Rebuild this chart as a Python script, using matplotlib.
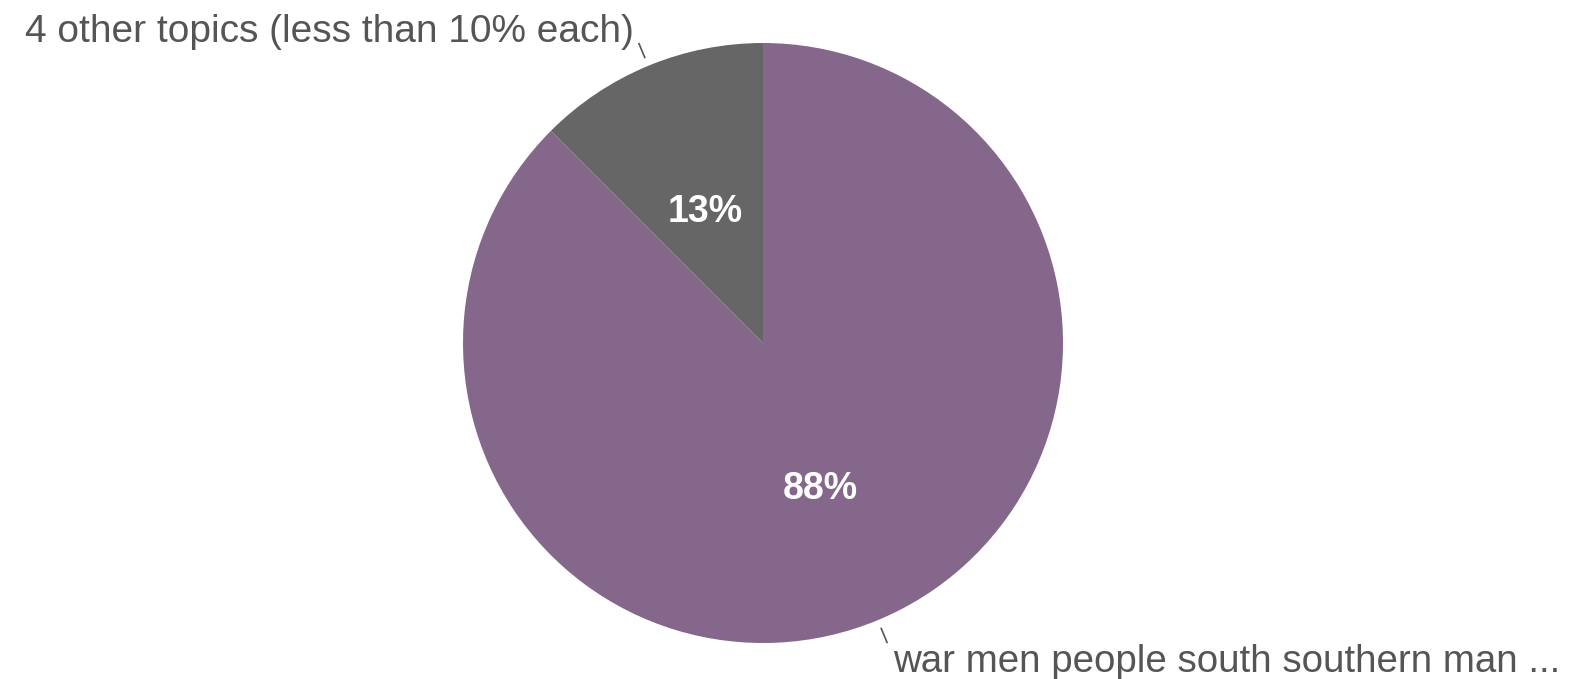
import numpy as np
import matplotlib
matplotlib.use('Agg')
import matplotlib.pyplot as plt

# slice data
labels = ['war men people south southern man ...',
          '4 other topics (less than 10% each)']
shares = [87.5, 12.5]
pct_text = ['88%', '13%']
colors = ['#84678a', '#666666']

plt.rcParams['font.family'] = ['Liberation Sans', 'DejaVu Sans']

W, H = 1569, 679
fig = plt.figure(figsize=(W / 100., H / 100.), dpi=100)
cx, cy, r = 763, 343, 300
ax = fig.add_axes([(cx - r) / W, (H - cy - r) / H, 2 * r / W, 2 * r / H])

wedges, _ = ax.pie(shares, colors=colors, startangle=90, counterclock=False,
                   radius=1.0, wedgeprops=dict(linewidth=0))
ax.set_xlim(-1, 1)
ax.set_ylim(-1, 1)
ax.set_aspect('equal')
ax.axis('off')

for i, w in enumerate(wedges):
    mid = np.deg2rad((w.theta1 + w.theta2) / 2.)
    dx, dy = np.cos(mid), np.sin(mid)
    # percentage inside
    ax.text(0.5 * dx, 0.5 * dy - 0.025, pct_text[i], ha='center', va='center',
            color='white', fontsize=27, fontweight='bold')
    # leader line + outer label
    ax.plot([1.03 * dx, 1.08 * dx], [1.03 * dy, 1.08 * dy],
            color='#555555', lw=1.2, clip_on=False)
    ex, ey = 1.08 * dx, 1.08 * dy
    if dx < 0:
        ax.text(ex - 0.017, ey + 0.005, labels[i], ha='right', va='baseline',
                color='#555555', fontsize=28, clip_on=False)
    else:
        ax.text(ex + 0.02, ey - 0.005, labels[i], ha='left', va='top',
                color='#555555', fontsize=27.7, clip_on=False)

fig.savefig('out.png', dpi=100)
plt.close()
